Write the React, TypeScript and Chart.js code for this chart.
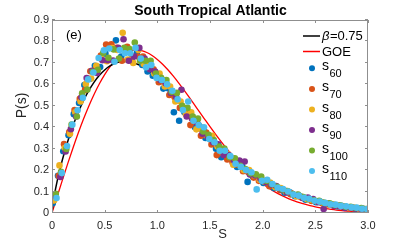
import React, { useEffect, useRef } from "react";
import { Chart, registerables } from "chart.js";
Chart.register(...registerables);

const FONT = "'Liberation Sans', Arial, Helvetica, sans-serif";

const chartTitle = "South Tropical Atlantic";
const xLabel = "S";
const yLabel = "P(s)";
const panelTag = "(e)";

const xTicks = [0, 0.5, 1, 1.5, 2, 2.5, 3];
const yTicks = [0, 0.1, 0.2, 0.3, 0.4, 0.5, 0.6, 0.7, 0.8, 0.9];

const binCenters = [
  0.025, 0.075, 0.125, 0.175, 0.225, 0.275, 0.325, 0.375, 0.425, 0.475,
  0.525, 0.575, 0.625, 0.675, 0.725, 0.775, 0.825, 0.875, 0.925, 0.975,
  1.025, 1.075, 1.125, 1.175, 1.225, 1.275, 1.325, 1.375, 1.425, 1.475,
  1.525, 1.575, 1.625, 1.675, 1.725, 1.775, 1.825, 1.875, 1.925, 1.975,
  2.025, 2.075, 2.125, 2.175, 2.225, 2.275, 2.325, 2.375, 2.425, 2.475,
  2.525, 2.575, 2.625, 2.675, 2.725, 2.775, 2.825, 2.875, 2.925, 2.975,
];

const seriesShift = [-0.018, -0.011, -0.004, 0.004, 0.011, 0.018];

const s60 = [0.046,0.174,0.288,0.363,0.461,0.513,0.597,0.625,0.687,0.681, 0.743,0.775,0.805,0.73,0.755,0.71,0.75,0.69,0.66,0.64, 0.64,0.58,0.58,0.47,0.43,0.47,0.46,0.40,0.395,0.35, 0.35,0.30,0.26,0.26,0.25,0.215,0.215,0.145,0.17,0.165, 0.14,0.14,0.116,0.114,0.095,0.096,0.078,0.078,0.062,0.063, 0.05,0.051,0.04,0.04,0.031,0.032,0.024,0.025,0.019,0.02];
const s70 = [0.06,0.173,0.321,0.378,0.48,0.532,0.574,0.661,0.672,0.734, 0.786,0.787,0.77,0.71,0.775,0.73,0.73,0.73,0.68,0.67, 0.61,0.61,0.55,0.54,0.49,0.48,0.41,0.425,0.36,0.375, 0.32,0.27,0.29,0.25,0.235,0.225,0.195,0.19,0.165,0.15, 0.15,0.125,0.126,0.106,0.103,0.087,0.083,0.073,0.069,0.056, 0.055,0.045,0.044,0.036,0.035,0.028,0.027,0.021,0.022,0.016];
const s80 = [0.059,0.222,0.303,0.369,0.47,0.52,0.601,0.627,0.687,0.718, 0.708,0.769,0.76,0.84,0.715,0.70,0.76,0.695,0.70,0.65, 0.65,0.59,0.59,0.52,0.52,0.46,0.47,0.39,0.39,0.36, 0.36,0.31,0.28,0.275,0.225,0.235,0.20,0.20,0.175,0.155, 0.145,0.142,0.12,0.116,0.098,0.092,0.077,0.075,0.064,0.061, 0.052,0.049,0.039,0.039,0.032,0.03,0.023,0.024,0.017,0.018];
const s90 = [0.081,0.168,0.287,0.391,0.45,0.54,0.629,0.663,0.653,0.712, 0.712,0.711,0.77,0.81,0.71,0.73,0.77,0.72,0.67,0.66, 0.62,0.605,0.56,0.54,0.575,0.45,0.44,0.42,0.37,0.355, 0.33,0.32,0.27,0.27,0.245,0.245,0.24,0.18,0.175,0.16, 0.145,0.133,0.126,0.108,0.096,0.09,0.084,0.07,0.072,0.065, 0.05,0.019,0.042,0.033,0.03,0.023,0.026,0.02,0.02,0.015];
const s100 = [0.09,0.192,0.299,0.412,0.45,0.558,0.576,0.659,0.668,0.746, 0.724,0.763,0.72,0.77,0.765,0.795,0.71,0.71,0.71,0.65, 0.63,0.62,0.565,0.56,0.50,0.49,0.45,0.44,0.38,0.365, 0.34,0.31,0.30,0.26,0.255,0.22,0.205,0.185,0.18,0.17, 0.15,0.135,0.122,0.11,0.102,0.088,0.086,0.074,0.065,0.059, 0.057,0.047,0.045,0.037,0.036,0.029,0.029,0.023,0.023,0.019];
const s110 = [0.07,0.186,0.312,0.412,0.479,0.537,0.623,0.655,0.723,0.759, 0.767,0.705,0.76,0.745,0.745,0.77,0.72,0.68,0.69,0.63, 0.62,0.60,0.57,0.53,0.48,0.52,0.43,0.41,0.40,0.345, 0.33,0.29,0.29,0.265,0.23,0.215,0.20,0.19,0.11,0.15, 0.155,0.135,0.118,0.112,0.10,0.086,0.081,0.071,0.066,0.057, 0.053,0.047,0.04,0.039,0.033,0.031,0.026,0.025,0.02,0.018];

const seriesValues = [s60, s70, s80, s90, s100, s110];
const seriesSub = ["60", "70", "80", "90", "100", "110"];
const seriesColors = ["#0072BD", "#D95319", "#EDB120", "#7E2F8E", "#77AC30", "#4DBEEE"];

// beta = 0.75 curve
const brodyS = [0, 0.01, 0.025, 0.05, 0.075, 0.1, 0.15, 0.2, 0.25, 0.3, 0.35, 0.4, 0.45, 0.5, 0.55, 0.6, 0.65, 0.7, 0.75, 0.8, 0.85, 0.9, 0.95, 1.0, 1.05, 1.1, 1.15, 1.2, 1.25, 1.3, 1.35, 1.4, 1.45, 1.5, 1.55, 1.6, 1.65, 1.7, 1.75, 1.8, 1.85, 1.9, 1.95, 2.0, 2.05, 2.1, 2.15, 2.2, 2.25, 2.3, 2.35, 2.4, 2.45, 2.5, 2.55, 2.6, 2.65, 2.7, 2.75, 2.8, 2.85, 2.9, 2.95, 3.0];
const brodyP = [0, 0.0452, 0.0899, 0.1506, 0.2032, 0.2507, 0.3347, 0.4075, 0.4706, 0.5251, 0.5715, 0.6104, 0.6421, 0.6671, 0.6856, 0.698, 0.7049, 0.7065, 0.7035, 0.6959, 0.6846, 0.6699, 0.652, 0.6317, 0.6091, 0.5849, 0.5593, 0.5327, 0.5053, 0.4778, 0.4499, 0.4222, 0.3949, 0.368, 0.3418, 0.3166, 0.2924, 0.269, 0.2468, 0.2259, 0.206, 0.1875, 0.1702, 0.154, 0.1389, 0.125, 0.112, 0.1005, 0.0896, 0.0799, 0.0709, 0.0629, 0.0555, 0.0489, 0.043, 0.0378, 0.033, 0.0288, 0.0251, 0.0219, 0.019, 0.0164, 0.0141, 0.0122];

// GOE curve (red line)
const goeS = [0, 0.05, 0.1, 0.15, 0.2, 0.25, 0.3, 0.35, 0.4, 0.45, 0.5, 0.55, 0.6, 0.65, 0.7, 0.75, 0.8, 0.85, 0.9, 0.95, 1.0, 1.05, 1.1, 1.15, 1.2, 1.25, 1.3, 1.35, 1.4, 1.45, 1.5, 1.55, 1.6, 1.65, 1.7, 1.75, 1.8, 1.85, 1.9, 1.95, 2.0, 2.05, 2.1, 2.15, 2.2, 2.25, 2.3, 2.35, 2.4, 2.45, 2.5, 2.55, 2.6, 2.65, 2.7, 2.75, 2.8, 2.85, 2.9, 2.95, 3.0];
const goeP = [0, 0.0784, 0.1558, 0.2315, 0.3044, 0.3739, 0.4391, 0.4994, 0.5541, 0.603, 0.6454, 0.6814, 0.71, 0.7328, 0.7484, 0.7574, 0.7601, 0.757, 0.7483, 0.7345, 0.7161, 0.6939, 0.668, 0.6393, 0.6083, 0.5755, 0.5415, 0.5068, 0.4717, 0.4369, 0.4024, 0.3689, 0.3365, 0.3056, 0.2759, 0.248, 0.2219, 0.1976, 0.1752, 0.1547, 0.1358, 0.1187, 0.1033, 0.0895, 0.0772, 0.0663, 0.0567, 0.0482, 0.0409, 0.0345, 0.029, 0.0243, 0.0202, 0.0168, 0.0138, 0.0114, 0.0093, 0.0076, 0.0062, 0.005, 0.004];

const lineLabels = ["β=0.75", "GOE"];
const lineColors = ["#000000", "#FF0000"];

const decorPlugin = {
  id: "decor",
  afterDraw(chart: any) {
    const ctx = chart.ctx as CanvasRenderingContext2D;
    const a = chart.chartArea;
    const xs = chart.scales.x;
    const ys = chart.scales.y;
    ctx.save();
    // frame
    ctx.strokeStyle = "#8f8f8f";
    ctx.lineWidth = 1;
    ctx.strokeRect(Math.round(a.left) + 0.5, Math.round(a.top) + 0.5, Math.round(a.right - a.left) - 1, Math.round(a.bottom - a.top) - 1);
    // inward ticks
    ctx.beginPath();
    const tl = 3;
    xTicks.forEach((v) => {
      const px = Math.round(xs.getPixelForValue(v)) + 0.5;
      ctx.moveTo(px, a.bottom);
      ctx.lineTo(px, a.bottom - tl);
      ctx.moveTo(px, a.top);
      ctx.lineTo(px, a.top + tl);
    });
    yTicks.forEach((v) => {
      const py = Math.round(ys.getPixelForValue(v)) - 0.5;
      ctx.moveTo(a.left, py);
      ctx.lineTo(a.left + tl, py);
      ctx.moveTo(a.right, py);
      ctx.lineTo(a.right - tl, py);
    });
    ctx.stroke();

    // title
    ctx.fillStyle = "#000";
    ctx.textAlign = "center";
    ctx.textBaseline = "middle";
    ctx.font = `bold 14px ${FONT}`;
    ctx.fillText(chartTitle, 210.5, 11);

    // axis labels
    ctx.fillStyle = "#262626";
    ctx.font = `13px ${FONT}`;
    ctx.fillText(xLabel, 222.5, 234);
    ctx.save();
    ctx.translate(22, 105.5);
    ctx.rotate(-Math.PI / 2);
    ctx.font = `14px ${FONT}`;
    ctx.fillText(yLabel, 0, 0);
    ctx.restore();

    // panel tag
    ctx.textAlign = "left";
    ctx.font = `13px ${FONT}`;
    ctx.fillStyle = "#000";
    ctx.fillText(panelTag, 66, 35);

    // legend: lines
    const lx0 = 303, lx1 = 320, tx = 322;
    const lineYs = [36, 51.5];
    lineLabels.forEach((lab, i) => {
      ctx.strokeStyle = lineColors[i];
      ctx.lineWidth = 1.5;
      ctx.beginPath();
      ctx.moveTo(lx0, lineYs[i]);
      ctx.lineTo(lx1, lineYs[i]);
      ctx.stroke();
      ctx.fillStyle = "#000";
      if (i === 0) {
        ctx.font = `italic 13px ${FONT}`;
        const b = lab.charAt(0);
        ctx.fillText(b, tx, lineYs[i] + 0.5);
        const w = ctx.measureText(b).width;
        ctx.font = `13px ${FONT}`;
        ctx.fillText(lab.slice(1), tx + w + 0.5, lineYs[i] + 0.5);
      } else {
        ctx.font = `13px ${FONT}`;
        ctx.fillText(lab, tx, lineYs[i] + 0.5);
      }
    });
    // legend: markers
    const markYs = [68.3, 89, 109.5, 130, 150.5, 171];
    seriesSub.forEach((sub, i) => {
      ctx.fillStyle = seriesColors[i];
      ctx.beginPath();
      ctx.arc(312, markYs[i], 3, 0, Math.PI * 2);
      ctx.fill();
      ctx.fillStyle = "#000";
      ctx.font = `14px ${FONT}`;
      ctx.textBaseline = "alphabetic";
      ctx.fillText("s", tx, markYs[i] + 2);
      const w = ctx.measureText("s").width;
      ctx.font = `11px ${FONT}`;
      ctx.fillText(sub, tx + w + 0.5, markYs[i] + 9);
      ctx.textBaseline = "middle";
    });
    ctx.restore();
  },
};

export default function App() {
  const ref = useRef<HTMLCanvasElement | null>(null);
  useEffect(() => {
    document.body.style.margin = "0";
    const canvas = ref.current;
    if (!canvas) return;
    const scatterSets = seriesValues.map((vals, si) => ({
      label: "s" + seriesSub[si],
      data: vals.map((v, k) => ({ x: binCenters[k] + seriesShift[si], y: v })),
      backgroundColor: seriesColors[si],
      borderWidth: 0,
      pointRadius: 3.3,
      showLine: false,
      order: 6 - si,
    }));
    const lineSets = [
      {
        label: lineLabels[0],
        data: brodyS.map((s, i) => ({ x: s, y: brodyP[i] })),
        borderColor: lineColors[0],
        borderWidth: 1.5,
        pointRadius: 0,
        showLine: true,
        cubicInterpolationMode: "monotone" as const,
        order: 7,
      },
      {
        label: lineLabels[1],
        data: goeS.map((s, i) => ({ x: s, y: goeP[i] })),
        borderColor: lineColors[1],
        borderWidth: 1.3,
        pointRadius: 0,
        showLine: true,
        cubicInterpolationMode: "monotone" as const,
        order: 8,
      },
    ];
    const tickFont = { family: FONT, size: 11 };
    const chart = new Chart(canvas, {
      type: "scatter",
      data: { datasets: [...lineSets, ...scatterSets] as any },
      options: {
        responsive: false,
        animation: false,
        devicePixelRatio: 1,
        layout: { padding: { top: 20, right: 39, left: 0, bottom: 0 } },
        plugins: { legend: { display: false }, tooltip: { enabled: false }, title: { display: false } },
        scales: {
          x: {
            type: "linear",
            min: 0,
            max: 3,
            grid: { display: false, drawTicks: false },
            border: { display: false },
            ticks: { stepSize: 0.5, color: "#262626", font: tickFont, padding: 6, maxRotation: 0 },
            afterFit: (s: any) => { s.height = 27; },
          },
          y: {
            type: "linear",
            min: 0,
            max: 0.9,
            grid: { display: false, drawTicks: false },
            border: { display: false },
            ticks: { stepSize: 0.1, color: "#262626", font: tickFont, padding: 3 },
            afterFit: (s: any) => { s.width = 52; },
          },
        },
      },
      plugins: [decorPlugin],
    });
    return () => chart.destroy();
  }, []);
  return (
    <div style={{ position: "absolute", left: 0, top: 0, width: 407, height: 240, background: "#fff" }}>
      <canvas ref={ref} width={407} height={240} style={{ width: 407, height: 240, display: "block" }} />
    </div>
  );
}
